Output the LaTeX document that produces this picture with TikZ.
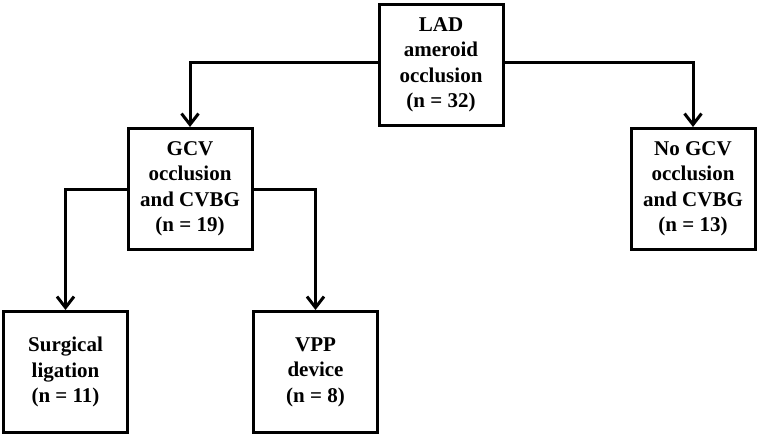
\documentclass[tikz,border=0pt]{standalone}
\usepackage{fontspec}
\setmainfont{Liberation Serif}
\usetikzlibrary{arrows.meta,positioning}

\begin{document}
\begin{tikzpicture}[x=1pt,y=-1pt,
   box/.style={draw,line width=3pt,minimum width=124pt,minimum height=121pt,
     align=center,font=\fontsize{21}{25.5}\selectfont\bfseries,inner sep=2pt},
   flow/.style={line width=3pt,-{Straight Barb[length=11pt,width=17pt,line width=3pt]}}]
   \useasboundingbox (0,0) rectangle (759,436);
   \node[box] (lad) at (441,65) {LAD\\ameroid\\occlusion\\(n = 32)};
   \node[box] (gcv) at (190,189) {GCV\\occlusion\\and CVBG\\(n = 19)};
   \node[box] (nogcv) at (693,189) {No GCV\\occlusion\\and CVBG\\(n = 13)};
   \node[box] (surg) at (65.5,372) {Surgical\\ligation\\(n = 11)};
   \node[box] (vpp) at (315.5,372) {VPP\\device\\(n = 8)};
    \draw[flow] ([yshift=3pt]lad.west) -| (gcv.north);
    \draw[flow] ([yshift=3pt]lad.east) -| (nogcv.north);
    \draw[flow] (gcv.west) -| (surg.north);
    \draw[flow] (gcv.east) -| (vpp.north);
\end{tikzpicture}
\end{document}
